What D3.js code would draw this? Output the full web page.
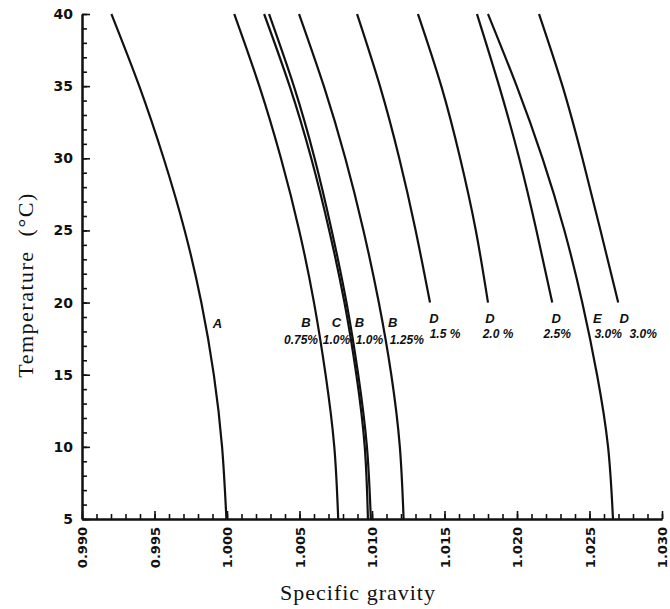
<!DOCTYPE html>
<html lang="en">
<head>
<meta charset="UTF-8">
<title>Specific gravity vs temperature</title>
<script src="https://d3js.org/d3.v7.min.js"></script>
<style>
  body { margin: 0; background: #fff; }
  .tick text { font-family: "DejaVu Sans", sans-serif; font-weight: bold; fill: #111; }
  .domain { stroke: #111; stroke-width: 2px; }
  .tick line { stroke: #111; stroke-width: 1.6px; }
  .axis-title { font-family: "Liberation Serif", serif; fill: #111; white-space: pre; }
  .curve { fill: none; stroke: #111; stroke-width: 2.2px; }
  .curve-label { font-family: "Liberation Sans", sans-serif; font-weight: bold; font-style: italic; fill: #111; }
</style>
</head>
<body>
<div id="chart"></div>
<script>
// temperatures (°C) at which the curves were read
const temps = [40, 35, 30, 25, 20, 15, 10, 5];

// specific gravity for each curve, same order as temps (D curves stop at 20 °C)
const sgA     = [0.99203, 0.99395, 0.99563, 0.99708, 0.99823, 0.99909, 0.99966, 0.99996];
const sgB075  = [1.00050, 1.00223, 1.00372, 1.00498, 1.00600, 1.00680, 1.00740, 1.00767];
const sgC10   = [1.00256, 1.00432, 1.00581, 1.00705, 1.00810, 1.00892, 1.00950, 1.00972];
const sgB10   = [1.00290, 1.00461, 1.00604, 1.00722, 1.00824, 1.00905, 1.00965, 1.00992];
const sgB125  = [1.00497, 1.00668, 1.00816, 1.00941, 1.01047, 1.01133, 1.01192, 1.01218];
const sgD15   = [1.00897, 1.01055, 1.01188, 1.01301, 1.01400];
const sgD20   = [1.01317, 1.01478, 1.01608, 1.01716, 1.01800];
const sgD25   = [1.01724, 1.01877, 1.02015, 1.02134, 1.02243];
const sgE30   = [1.01800, 1.01998, 1.02176, 1.02327, 1.02450, 1.02552, 1.02628, 1.02662];
const sgD30   = [1.02152, 1.02314, 1.02451, 1.02576, 1.02698];

const curveNames    = ["A", "B", "C", "B", "B", "D", "D", "D", "E", "D"];
const curvePercents = ["", "0.75%", "1.0%", "1.0%", "1.25%", "1.5 %", "2.0 %", "2.5%", "3.0%", "3.0%"];
const allSeries = [sgA, sgB075, sgC10, sgB10, sgB125, sgD15, sgD20, sgD25, sgE30, sgD30];

const xTicks = [0.990, 0.995, 1.000, 1.005, 1.010, 1.015, 1.020, 1.025, 1.030];
const yTicks = [5, 10, 15, 20, 25, 30, 35, 40];

// label placement relative to each curve's 20 °C point (pixels)
const labelLayout = [
  { ndx: 16, ndy: 25, pdx: 0,   pdy: 0 },
  { ndx: -8, ndy: 24, pdx: -13, pdy: 41 },
  { ndx: -8, ndy: 24, pdx: -8,  pdy: 41 },
  { ndx: 13, ndy: 24, pdx: 23,  pdy: 41 },
  { ndx: 14, ndy: 24, pdx: 28,  pdy: 41 },
  { ndx: 4,  ndy: 20, pdx: 15,  pdy: 35 },
  { ndx: 2,  ndy: 20, pdx: 10,  pdy: 35 },
  { ndx: 4,  ndy: 20, pdx: 5,   pdy: 35 },
  { ndx: 15, ndy: 20, pdx: 26,  pdy: 35 },
  { ndx: 6,  ndy: 20, pdx: 25,  pdy: 35 }
];

const W = 670, H = 609;
const margin = { top: 14, right: 8, bottom: 90, left: 82 };
const width = W - margin.left - margin.right;
const height = H - margin.top - margin.bottom;

const svg = d3.select("#chart").append("svg")
  .attr("width", W)
  .attr("height", H);

const g = svg.append("g")
  .attr("transform", `translate(${margin.left},${margin.top})`);

const x = d3.scaleLinear().domain([0.990, 1.030]).range([0, width]);
const y = d3.scaleLinear().domain([5, 40]).range([height, 0]);

// minor ticks
const xMinor = d3.range(0, 41).map(i => 0.990 + i * 0.001);
const yMinor = d3.range(5, 41);

g.append("g")
  .attr("transform", `translate(0,${height})`)
  .call(d3.axisBottom(x).tickValues(xMinor).tickSize(-5).tickSizeOuter(0).tickFormat(""));

g.append("g")
  .call(d3.axisLeft(y).tickValues(yMinor).tickSize(-5).tickSizeOuter(0).tickFormat(""));

// major ticks + labels
const xAxis = g.append("g")
  .attr("transform", `translate(0,${height})`)
  .call(d3.axisBottom(x).tickValues(xTicks).tickSize(-8).tickSizeOuter(0).tickFormat(d3.format(".3f")));

xAxis.selectAll("text")
  .attr("transform", "rotate(-90)")
  .attr("x", -8)
  .attr("y", 0)
  .attr("dy", "0.36em")
  .style("text-anchor", "end")
  .style("font-size", "13px");

const yAxis = g.append("g")
  .call(d3.axisLeft(y).tickValues(yTicks).tickSize(-8).tickSizeOuter(0));

yAxis.selectAll("text")
  .attr("x", -9)
  .style("font-size", "14px");

// curves
const line = d3.line()
  .x(d => x(d[1]))
  .y(d => y(d[0]))
  .curve(d3.curveNatural);

allSeries.forEach((s, i) => {
  const pts = s.map((v, j) => [temps[j], v]);
  g.append("path")
    .attr("class", "curve")
    .attr("d", line(pts));

  const i20 = temps.indexOf(20);
  const px = x(s[i20]), py = y(20);
  const L = labelLayout[i];

  g.append("text")
    .attr("class", "curve-label")
    .attr("x", px + L.ndx)
    .attr("y", py + L.ndy)
    .attr("text-anchor", "middle")
    .style("font-size", "13px")
    .text(curveNames[i]);

  if (curvePercents[i]) {
    g.append("text")
      .attr("class", "curve-label")
      .attr("x", px + L.pdx)
      .attr("y", py + L.pdy)
      .attr("text-anchor", "middle")
      .style("font-size", "12px")
      .text(curvePercents[i]);
  }
});

// axis titles
svg.append("text")
  .attr("class", "axis-title")
  .attr("x", 358)
  .attr("y", 600)
  .attr("text-anchor", "middle")
  .style("font-size", "22px")
  .style("letter-spacing", "1px")
  .text("Specific gravity");

svg.append("text")
  .attr("class", "axis-title")
  .attr("transform", "translate(33,285) rotate(-90)")
  .attr("text-anchor", "middle")
  .style("font-size", "22px")
  .style("letter-spacing", "1.5px")
  .text("Temperature  (°C)");
</script>
</body>
</html>
